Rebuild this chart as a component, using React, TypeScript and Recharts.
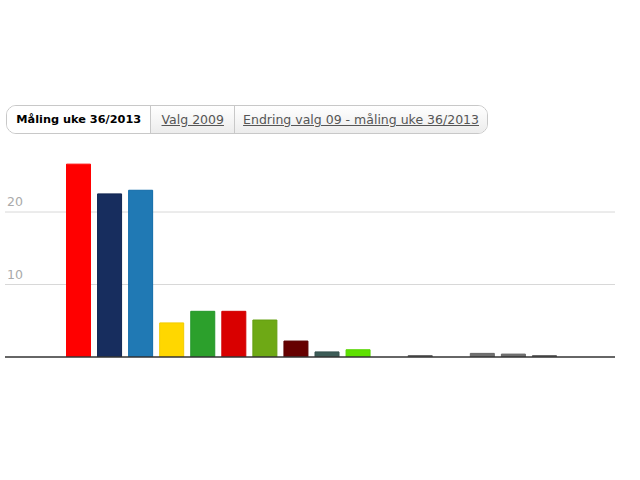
import { BarChart, Bar, XAxis, YAxis, CartesianGrid, Cell, ReferenceLine } from 'recharts'

const parties = ['Ap', 'H', 'FrP', 'KrF', 'Sp', 'SV', 'V', 'R', 'KP', 'MDG', 'DEM', 'PP', 'KSP', 'Kyst', 'DK', 'Andre']
const shares = [26.6, 22.5, 23.0, 4.7, 6.3, 6.3, 5.1, 2.2, 0.7, 1.0, 0, 0.2, 0, 0.5, 0.4, 0.2]
const partyColors = [
  '#ff0000', '#172d5e', '#2079b4', '#ffd700', '#2ca02c', '#d90000', '#6ea915', '#660000',
  '#3d5c57', '#5ee000', '#707070', '#707070', '#707070', '#707070', '#707070', '#707070',
]
const partyStrokes = [
  '#ff0000', '#0f2450', '#0e6aa8', '#f2cc00', '#23962a', '#d00000', '#649f10', '#5a0000',
  '#36524e', '#56d400', '#666666', '#666666', '#666666', '#666666', '#666666', '#666666',
]
const yTicks = [0, 10, 20]
const gridValues = [10, 20]
const tabs = ['Måling uke 36/2013', 'Valg 2009', 'Endring valg 09 - måling uke 36/2013']

const data = parties.map((party, i) => ({ party, share: shares[i] }))

const font = '"DejaVu Sans", sans-serif'

const renderYTick = (props: any) => {
  const { y, payload } = props
  if (payload.value === 0) return <g />
  return (
    <text x={7} y={y - 6} fill="#aaaaaa" fontSize={12.5} fontFamily={font} textAnchor="start">
      {payload.value}
    </text>
  )
}

function Tabs() {
  const widths = [144, 84, 254]
  return (
    <div
      style={{
        position: 'absolute',
        left: 6,
        top: 105,
        width: 480,
        height: 27,
        border: '1px solid #c8c8c8',
        borderRadius: 10,
        display: 'flex',
        overflow: 'hidden',
        fontFamily: font,
        fontSize: 12.5,
        boxSizing: 'content-box',
      }}
    >
      {tabs.map((t, i) => (
        <div
          key={t}
          style={{
            width: widths[i],
            boxSizing: 'border-box',
            borderLeft: i > 0 ? '1px solid #c8c8c8' : 'none',
            background: i === 0 ? '#ffffff' : 'linear-gradient(#ffffff, #ececec)',
            color: i === 0 ? '#000' : '#555',
            fontWeight: i === 0 ? 'bold' : 'normal',
            fontSize: i === 0 ? 11.3 : 12.5,
            textDecoration: i === 0 ? 'none' : 'underline',
            lineHeight: '27px',
            textAlign: 'center',
            whiteSpace: 'nowrap',
          }}
        >
          {t}
        </div>
      ))}
    </div>
  )
}

export default function App() {
  return (
    <div style={{ position: 'absolute', left: 0, top: 0, width: 640, height: 480, background: '#fff' }}>
      <Tabs />
      <div style={{ position: 'absolute', left: 0, top: 0 }}>
        <BarChart
          width={640}
          height={480}
          data={data}
          margin={{ top: 154, right: 25, bottom: 122, left: 4 }}
        >
          <CartesianGrid vertical={false} stroke="#d8d8d8" horizontalValues={gridValues} />
          <XAxis
            dataKey="party"
            height={1}
            tick={false}
            tickLine={false}
            axisLine={false}
            padding={{ left: 57.5, right: 55.5 }}
          />
          <YAxis
            width={1}
            domain={[0, 28]}
            ticks={yTicks}
            axisLine={false}
            tickLine={false}
            tick={renderYTick}
            allowDataOverflow
          />
          <Bar dataKey="share" barSize={24} isAnimationActive={false}>
            {data.map((d, i) => (
              <Cell key={d.party} fill={partyColors[i]} stroke={partyStrokes[i]} strokeWidth={1} />
            ))}
          </Bar>
          <ReferenceLine y={0} stroke="#333333" strokeWidth={1.5} />
        </BarChart>
      </div>
    </div>
  )
}
